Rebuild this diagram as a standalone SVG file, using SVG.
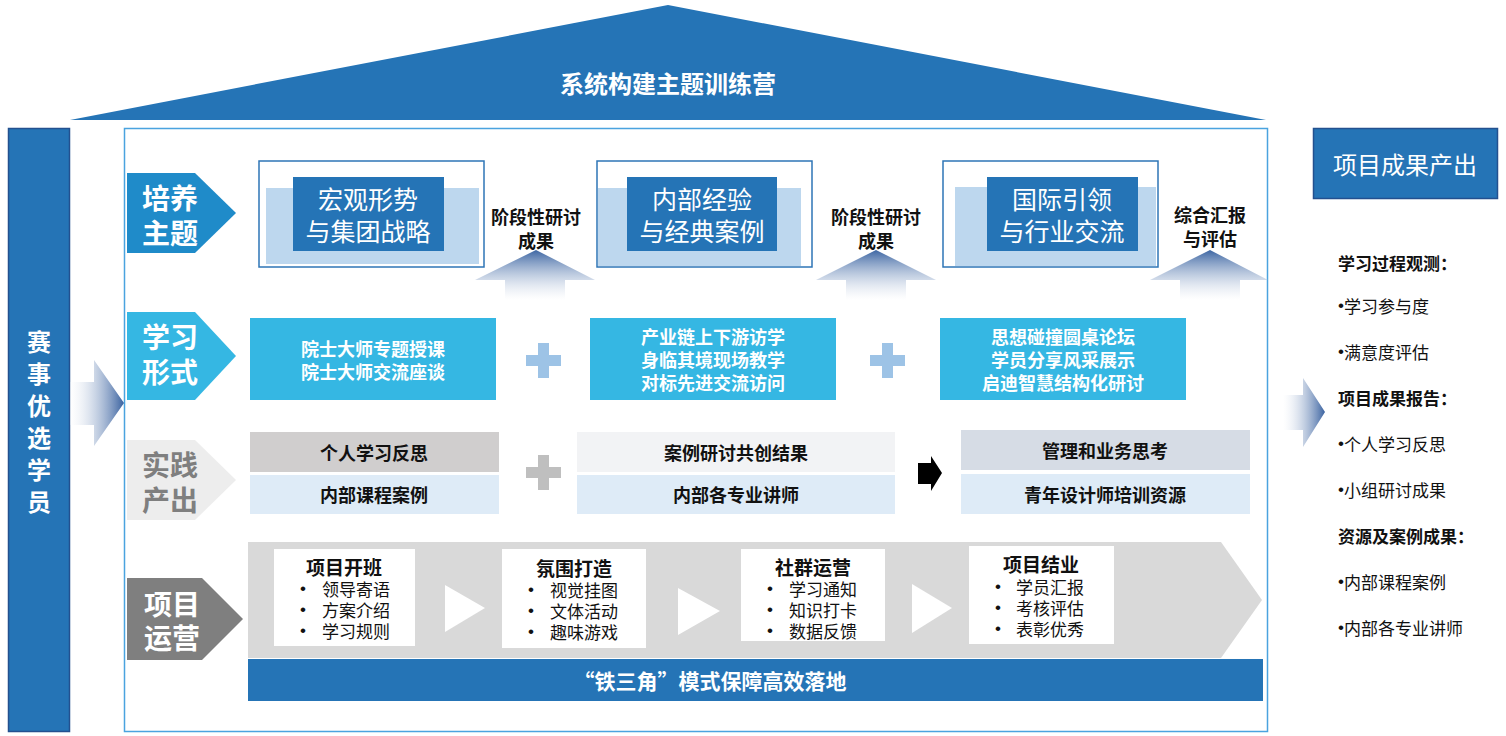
<svg xmlns="http://www.w3.org/2000/svg" width="1506" height="736" viewBox="0 0 1506 736">
<defs>
<linearGradient id="gH" x1="0" y1="0" x2="1" y2="0">
<stop offset="0" stop-color="#ffffff" stop-opacity="0.2"/>
<stop offset="1" stop-color="#3a62a0"/>
</linearGradient>
<linearGradient id="gV" x1="0" y1="0" x2="0" y2="1">
<stop offset="0" stop-color="#3d66a3"/>
<stop offset="1" stop-color="#ffffff" stop-opacity="0.3"/>
</linearGradient>
<style>
text{font-family:"Noto Sans CJK SC","Noto Sans",sans-serif;dominant-baseline:central}
.c{text-anchor:middle}
.w{fill:#ffffff}
.k{fill:#111111}
.b{font-weight:bold}
.dot{font-family:"Liberation Sans",sans-serif}
.lab{font-size:28px;font-weight:bold}
.t1{font-size:25px;fill:#ffffff}
.t2{font-size:18px;font-weight:bold;fill:#ffffff}
.t3{font-size:18px;font-weight:bold;fill:#111111}
.t4{font-size:17px;fill:#111111}
.t4b{font-size:19px;font-weight:bold;fill:#111111}
.rt{font-size:17px;fill:#111111}
.blue{fill:#2574b6}
.lb{fill:#bdd7ee}
.frame{fill:#ffffff;stroke:#2e75b6;stroke-width:1.5}
.cyan{fill:#35b7e3}
.plus{fill:#9dc3e6}
.plusg{fill:#bfbfbf}
.pale{fill:#deebf7}
</style>
</defs>
<rect width="1506" height="736" fill="#ffffff"/>

<g id="roof">
<polygon points="70,120 668,5 1266,120" fill="#2574b6"/>
<text class="c w b" x="668" y="82" font-size="24">系统构建主题训练营</text>
</g>

<g id="main-frame">
<rect x="124.5" y="128.5" width="1143" height="603" fill="#ffffff" stroke="#4aa3df" stroke-width="1.5"/>
</g>

<g id="left-column">
<rect x="8.5" y="128.5" width="61" height="603" fill="#2574b6" stroke="#23508f" stroke-width="1.5"/>
<text class="c w b" x="39" y="340" font-size="24">赛</text>
<text class="c w b" x="39" y="372" font-size="24">事</text>
<text class="c w b" x="39" y="404" font-size="24">优</text>
<text class="c w b" x="39" y="436" font-size="24">选</text>
<text class="c w b" x="39" y="468" font-size="24">学</text>
<text class="c w b" x="39" y="500" font-size="24">员</text>
</g>

<g id="right-title">
<rect x="1313.5" y="128.5" width="184" height="70" fill="#2574b6" stroke="#23508f" stroke-width="1.5"/>
<text class="c w" x="1405" y="163" font-size="24">项目成果产出</text>
</g>

<g id="right-list">
<text class="rt b" x="1338" y="262">学习过程观测：</text>
<text class="rt" x="1338" y="305"><tspan class="dot">•</tspan>学习参与度</text>
<text class="rt" x="1338" y="351"><tspan class="dot">•</tspan>满意度评估</text>
<text class="rt b" x="1338" y="397">项目成果报告：</text>
<text class="rt" x="1338" y="443"><tspan class="dot">•</tspan>个人学习反思</text>
<text class="rt" x="1338" y="489"><tspan class="dot">•</tspan>小组研讨成果</text>
<text class="rt b" x="1338" y="535">资源及案例成果：</text>
<text class="rt" x="1338" y="581"><tspan class="dot">•</tspan>内部课程案例</text>
<text class="rt" x="1338" y="627"><tspan class="dot">•</tspan>内部各专业讲师</text>
</g>

<!-- Row 1 -->
<g id="label-peiyang">
<polygon points="127,173 195,173 236,213 195,253 127,253" fill="#1f8bc9"/>
<text class="c w lab" x="170" y="197">培养</text>
<text class="c w lab" x="170" y="232">主题</text>
</g>
<g id="theme-1">
<rect class="frame" x="259" y="161" width="225" height="106"/>
<rect class="lb" x="266" y="188" width="213" height="76"/>
<rect class="blue" x="293" y="177" width="151" height="74"/>
<text class="c t1" x="368" y="198">宏观形势</text>
<text class="c t1" x="368" y="230">与集团战略</text>
</g>
<g id="theme-2">
<rect class="frame" x="597" y="161" width="215" height="106"/>
<rect class="lb" x="598" y="188" width="203" height="78"/>
<rect class="blue" x="627" y="177" width="150" height="74"/>
<text class="c t1" x="702" y="198">内部经验</text>
<text class="c t1" x="702" y="230">与经典案例</text>
</g>
<g id="theme-3">
<rect class="frame" x="943" y="161" width="215" height="106"/>
<rect class="lb" x="955" y="187" width="201" height="79"/>
<rect class="blue" x="987" y="177" width="151" height="74"/>
<text class="c t1" x="1062" y="198">国际引领</text>
<text class="c t1" x="1062" y="230">与行业交流</text>
</g>
<g id="stage-1">
<text class="c t3" x="536" y="216">阶段性研讨</text>
<text class="c t3" x="536" y="240">成果</text>
</g>
<g id="stage-2">
<text class="c t3" x="876" y="216">阶段性研讨</text>
<text class="c t3" x="876" y="240">成果</text>
</g>
<g id="stage-3">
<text class="c t3" x="1210" y="214">综合汇报</text>
<text class="c t3" x="1210" y="238">与评估</text>
</g>

<!-- Row 2 -->
<g id="label-xuexi">
<polygon points="127,312 195,312 236,356 195,400 127,400" fill="#35b7e3"/>
<text class="c w lab" x="170" y="336">学习</text>
<text class="c w lab" x="170" y="371">形式</text>
</g>
<g id="form-1">
<rect class="cyan" x="250" y="318" width="246" height="82"/>
<text class="c t2" x="373" y="348">院士大师专题授课</text>
<text class="c t2" x="373" y="371">院士大师交流座谈</text>
</g>
<g id="form-2">
<rect class="cyan" x="590" y="318" width="246" height="82"/>
<text class="c t2" x="713" y="336">产业链上下游访学</text>
<text class="c t2" x="713" y="359">身临其境现场教学</text>
<text class="c t2" x="713" y="382">对标先进交流访问</text>
</g>
<g id="form-3">
<rect class="cyan" x="940" y="318" width="246" height="82"/>
<text class="c t2" x="1063" y="336">思想碰撞圆桌论坛</text>
<text class="c t2" x="1063" y="359">学员分享风采展示</text>
<text class="c t2" x="1063" y="382">启迪智慧结构化研讨</text>
</g>

<!-- Row 3 -->
<g id="label-shijian">
<polygon points="127,440 195,440 236,480 195,520 127,520" fill="#ededed"/>
<text class="c lab" x="170" y="464" fill="#7f7f7f">实践</text>
<text class="c lab" x="170" y="499" fill="#7f7f7f">产出</text>
</g>
<g id="output-1">
<rect x="250" y="432" width="249" height="40" fill="#d0cece"/>
<rect class="pale" x="250" y="475" width="249" height="39"/>
<text class="c t3" x="374" y="452">个人学习反思</text>
<text class="c t3" x="374" y="494">内部课程案例</text>
</g>
<g id="output-2">
<rect x="577" y="432" width="318" height="40" fill="#f2f3f5"/>
<rect class="pale" x="577" y="475" width="318" height="39"/>
<text class="c t3" x="736" y="452">案例研讨共创结果</text>
<text class="c t3" x="736" y="494">内部各专业讲师</text>
</g>
<g id="output-3">
<rect x="961" y="430" width="289" height="40" fill="#d6dce5"/>
<rect class="pale" x="961" y="474" width="289" height="40"/>
<text class="c t3" x="1105" y="450">管理和业务思考</text>
<text class="c t3" x="1105" y="494">青年设计师培训资源</text>
</g>

<!-- Row 4 -->
<g id="label-yunying">
<polygon points="127,578 202,578 243,619 202,660 127,660" fill="#7f7f7f"/>
<text class="c w lab" x="172" y="603">项目</text>
<text class="c w lab" x="172" y="637">运营</text>
</g>
<g id="ops-band">
<polygon points="248,542 1221,542 1262,600 1221,658 248,658" fill="#d9d9d9"/>
<rect x="248" y="659" width="1015" height="42" fill="#2574b6"/>
<text class="c w b" x="710" y="680" font-size="21">“铁三角”模式保障高效落地</text>
</g>
<g id="ops-1">
<rect x="274" y="549" width="141" height="97" fill="#ffffff"/>
<text class="c t4b" x="344" y="566">项目开班</text>
<text class="t4"><tspan class="dot" x="300" y="588">•</tspan><tspan x="322" y="588">领导寄语</tspan><tspan class="dot" x="300" y="609">•</tspan><tspan x="322" y="609">方案介绍</tspan><tspan class="dot" x="300" y="630">•</tspan><tspan x="322" y="630">学习规则</tspan></text>
</g>
<g id="ops-2">
<rect x="502" y="549" width="144" height="99" fill="#ffffff"/>
<text class="c t4b" x="574" y="567">氛围打造</text>
<text class="t4"><tspan class="dot" x="528" y="589">•</tspan><tspan x="550" y="589">视觉挂图</tspan><tspan class="dot" x="528" y="610">•</tspan><tspan x="550" y="610">文体活动</tspan><tspan class="dot" x="528" y="631">•</tspan><tspan x="550" y="631">趣味游戏</tspan></text>
</g>
<g id="ops-3">
<rect x="741" y="549" width="144" height="92" fill="#ffffff"/>
<text class="c t4b" x="813" y="566">社群运营</text>
<text class="t4"><tspan class="dot" x="767" y="588">•</tspan><tspan x="789" y="588">学习通知</tspan><tspan class="dot" x="767" y="609">•</tspan><tspan x="789" y="609">知识打卡</tspan><tspan class="dot" x="767" y="630">•</tspan><tspan x="789" y="630">数据反馈</tspan></text>
</g>
<g id="ops-4">
<rect x="969" y="546" width="145" height="98" fill="#ffffff"/>
<text class="c t4b" x="1041" y="563">项目结业</text>
<text class="t4"><tspan class="dot" x="995" y="586">•</tspan><tspan x="1016" y="586">学员汇报</tspan><tspan class="dot" x="995" y="607">•</tspan><tspan x="1016" y="607">考核评估</tspan><tspan class="dot" x="995" y="628">•</tspan><tspan x="1016" y="628">表彰优秀</tspan></text>
</g>

<g id="connectors">
<polygon points="70,382 94,382 94,360 124,403 94,446 94,425 70,425" fill="url(#gH)"/>
<polygon points="1283,395 1303,395 1303,378 1325,412 1303,447 1303,430 1283,430" fill="url(#gH)"/>
<polygon points="536,250 595,280 565,280 565,300 505,300 505,280 475,280" fill="url(#gV)"/>
<polygon points="876,250 936,280 906,280 906,300 846,300 846,280 816,280" fill="url(#gV)"/>
<polygon points="1210,250 1268,280 1240,280 1240,300 1180,300 1180,280 1150,280" fill="url(#gV)"/>
<path class="plus" d="M538,343h11v12h12v11h-12v12h-11v-12h-12v-11h12z"/>
<path class="plus" d="M882,343h11v12h12v11h-12v12h-11v-12h-12v-11h12z"/>
<path class="plusg" d="M538,455h11v12h12v11h-12v12h-11v-12h-12v-11h12z"/>
<polygon points="918,463 931,463 931,456 942,473 931,491 931,484 918,484" fill="#000000"/>
<polygon points="445,585 485,608 445,632" fill="#ffffff"/>
<polygon points="678,588 720,611 678,635" fill="#ffffff"/>
<polygon points="912,584 952,608 912,633" fill="#ffffff"/>
</g>
</svg>
